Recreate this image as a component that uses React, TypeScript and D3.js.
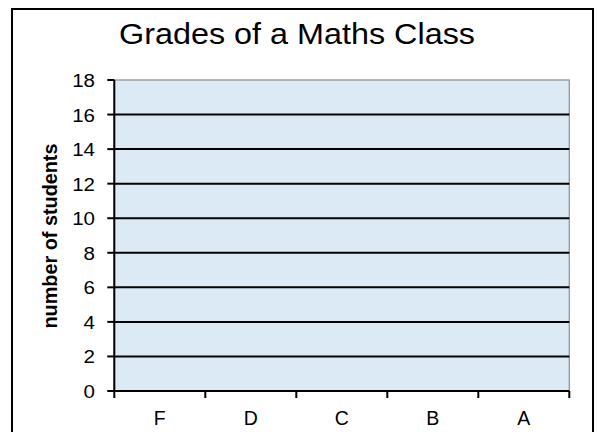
import React from "react";
import * as d3 from "d3";

const title = "Grades of a Maths Class";
const yAxisTitle = "number of students";
const grades = ["F", "D", "C", "B", "A"];
const yTicks = [0, 2, 4, 6, 8, 10, 12, 14, 16, 18];

const W = 598;
const H = 432;
const plot = { left: 114.3, right: 569.3, top: 80, bottom: 391 };
const font = "'Liberation Sans', Arial, sans-serif";

export default function App() {
  const y = d3.scaleLinear().domain([0, 18]).range([plot.bottom, plot.top]);
  const x = d3.scaleBand<string>().domain(grades).range([plot.left, plot.right]).padding(0);
  const bounds = [...grades.map((g) => x(g) as number), plot.right];
  const labelRight = 95;

  return (
    <svg
      width={W}
      height={H}
      style={{ position: "absolute", left: 0, top: 0, display: "block", background: "#fff" }}
    >
      {/* chart frame */}
      <rect x={12} y={9} width={581} height={H + 10} fill="#fff" stroke="#000" strokeWidth={2} />

      <text
        x={297}
        y={44}
        textAnchor="middle"
        fontFamily={font}
        fontSize={29.5}
        textLength={356}
        lengthAdjust="spacingAndGlyphs"
      >
        {title}
      </text>

      {/* plot area */}
      <rect
        x={plot.left}
        y={plot.top}
        width={plot.right - plot.left}
        height={plot.bottom - plot.top}
        fill="#dbeaf5"
        stroke="#8c8c8c"
        strokeWidth={1.2}
      />

      {/* horizontal gridlines */}
      {yTicks
        .filter((t) => t > 0 && t < 18)
        .map((t) => (
          <line
            key={`g${t}`}
            x1={plot.left}
            x2={plot.right}
            y1={y(t)}
            y2={y(t)}
            stroke="#000"
            strokeWidth={2}
          />
        ))}

      {/* y axis */}
      <line x1={plot.left} x2={plot.left} y1={plot.top} y2={plot.bottom} stroke="#000" strokeWidth={2} />
      {yTicks.map((t) => (
        <g key={`y${t}`}>
          <line x1={plot.left - 7} x2={plot.left} y1={y(t)} y2={y(t)} stroke="#000" strokeWidth={2} />
          <text
            x={labelRight}
            y={y(t) + 7}
            textAnchor="end"
            fontFamily={font}
            fontSize={19}
            transform={`translate(${labelRight * -0.08},0) scale(1.08,1)`}
          >
            {t}
          </text>
        </g>
      ))}

      {/* x axis */}
      <line x1={plot.left} x2={plot.right} y1={plot.bottom} y2={plot.bottom} stroke="#000" strokeWidth={2} />
      {bounds.map((b, i) => (
        <line key={`xt${i}`} x1={b} x2={b} y1={plot.bottom} y2={plot.bottom + 7} stroke="#000" strokeWidth={2} />
      ))}
      {grades.map((g) => (
        <text
          key={g}
          x={(x(g) as number) + x.bandwidth() / 2}
          y={425}
          textAnchor="middle"
          fontFamily={font}
          fontSize={19.5}
        >
          {g}
        </text>
      ))}

      <text
        transform={`translate(56.5, 236) rotate(-90)`}
        textAnchor="middle"
        fontFamily={font}
        fontSize={20.5}
        fontWeight="bold"
        textLength={185}
        lengthAdjust="spacingAndGlyphs"
      >
        {yAxisTitle}
      </text>
    </svg>
  );
}
